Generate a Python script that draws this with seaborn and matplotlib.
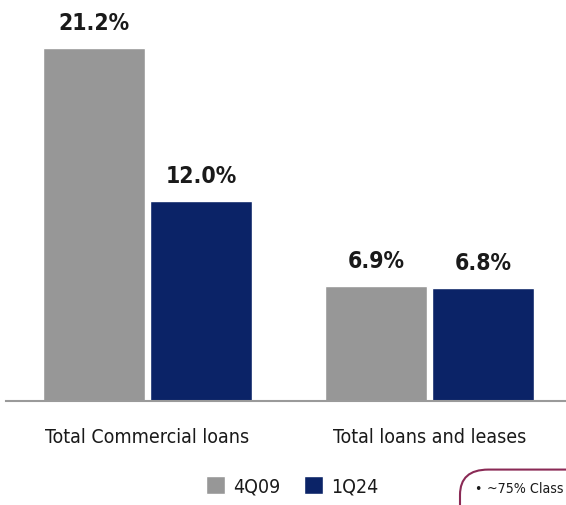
import matplotlib
matplotlib.use("Agg")
import matplotlib.pyplot as plt
import pandas as pd
import seaborn as sns
from matplotlib.patches import FancyBboxPatch

# data
categories = ['Total Commercial loans', 'Total loans and leases']
periods = ['4Q09', '1Q24']
values_4q09 = [21.2, 6.9]
values_1q24 = [12.0, 6.8]

colors = {'4Q09': '#979797', '1Q24': '#0b2367'}

df = pd.DataFrame({
    'category': categories * 2,
    'period': [periods[0]] * 2 + [periods[1]] * 2,
    'value': values_4q09 + values_1q24,
})

sns.set_style('white')
plt.rcParams['font.family'] = ['DejaVu Sans']
plt.rcParams['font.stretch'] = 'condensed'

fig = plt.figure(figsize=(5.66, 5.06), dpi=100)
ax = fig.add_axes([6 / 566, 1 - 402 / 506, 560 / 566, 400 / 506])

sns.barplot(data=df, x='category', y='value', hue='period', order=categories,
            hue_order=periods, palette=colors, width=0.762, gap=0.05,
            saturation=1, ax=ax, legend=True)

for cont in ax.containers:
    ax.bar_label(cont, labels=[f'{v:.1f}%' for v in cont.datavalues], padding=10,
                 fontsize=16.5, fontweight='bold', color='#1a1a1a')

ax.set_xlim(-0.502, 1.484)
ax.set_ylim(0, 24)
ax.set_xlabel('')
ax.set_ylabel('')
ax.set_yticks([])
ax.tick_params(axis='x', length=0, pad=19, labelsize=14, labelcolor='#1a1a1a')
for side in ['top', 'left', 'right']:
    ax.spines[side].set_visible(False)
ax.spines['bottom'].set_color('#9a9a9a')
ax.spines['bottom'].set_linewidth(1.5)

handles, labels = ax.get_legend_handles_labels()
ax.get_legend().remove()
fig.legend(handles, labels, loc='center', bbox_to_anchor=(292 / 566, 1 - 487 / 506),
           ncol=2, frameon=False, fontsize=14, handlelength=1.0, handleheight=1.0,
           handletextpad=0.4, columnspacing=1.2, labelcolor='#1a1a1a')

# partial callout box at the bottom right edge
box = FancyBboxPatch((460 / 566, -0.05), 0.3, 0.12, transform=fig.transFigure,
                     boxstyle='round,pad=0,rounding_size=0.05', facecolor='white',
                     edgecolor='#8a2a55', linewidth=1.5, clip_on=False)
fig.patches.append(box)
fig.text(474 / 566, 1 - 489 / 506, '\u2022', fontsize=10, va='center', color='#1a1a1a')
fig.text(487 / 566, 1 - 489 / 506, '~75% Class', fontsize=10.2, va='center',
         color='#1a1a1a')

fig.savefig('out.png', dpi=100)
